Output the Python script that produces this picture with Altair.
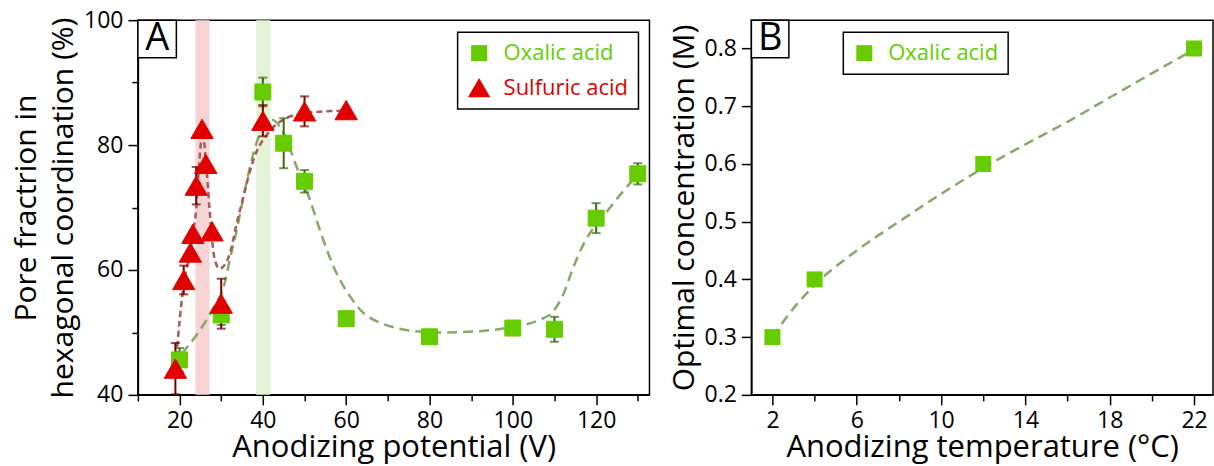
import altair as alt
import pandas as pd

FONT = "Open Sans"
GREEN = "#66cc00"
RED = "#e00000"
GREEN_DARK = "#3a6b0a"
RED_DARK = "#780000"
GREEN_LINE = "#87a86b"
RED_LINE = "#a55c5c"
BAND_RED = "#f8d4d4"
BAND_GREEN = "#e4f2d6"

# ---------------- Panel A data ----------------
ox_v = [20, 30, 40, 45, 50, 60, 80, 100, 110, 120, 130]
ox_p = [45.6, 52.8, 88.5, 80.3, 74.2, 52.2, 49.3, 50.7, 50.5, 68.3, 75.4]
ox_err = [1.9, 1.6, 2.3, 4.0, 1.8, 0, 0, 0, 2.0, 2.4, 1.7]

su_v = [19, 21, 22.6, 23.2, 24, 25.4, 26.3, 27.8, 30, 40, 50, 60]
su_p = [44.2, 58.4, 62.8, 65.8, 73.5, 82.6, 77.0, 66.2, 54.6, 83.9, 85.4, 85.6]
su_err = [4.1, 2.3, 0, 0, 3.0, 0, 0, 0, 4.0, 2.5, 2.4, 0]

ox_curve_v = [20.5, 24, 28, 30.8, 32, 33.6, 35.2, 36.8, 38.4, 40.4, 42.4, 44, 45.6, 48,
              51.2, 54.4, 57.6, 60.8, 64, 68, 72.8, 78.4, 84, 92, 100, 106.4, 109.6,
              112, 114.4, 116.8, 119.2, 122.4, 125.6, 130]
ox_curve_p = [46.6, 49.5, 53.8, 57.8, 61.5, 66.0, 71.2, 76.2, 80.2, 83.2, 84.0, 83.0, 81.0, 76.7,
              71.4, 65.0, 59.6, 55.9, 53.2, 51.6, 50.6, 50.1, 50.0, 50.2, 50.9, 52.0, 53.3,
              55.9, 60.2, 63.9, 66.6, 69.2, 71.9, 75.3]

su_curve_v = [19, 21.2, 22.4, 23.2, 24, 24.4, 24.8, 25.2, 25.6, 26.4, 27.2, 27.8, 28.4, 29.6,
              31.2, 32.4, 33.6, 35.2, 36.8, 38.4, 40.8, 42.4, 45.6, 49.6, 52.8, 60]
su_curve_p = [44.5, 58.6, 62.3, 66.0, 69.8, 74.0, 77.8, 80.7, 81.5, 76.7, 69.8, 65.0, 61.8, 60.2,
              61.2, 63.4, 67.1, 71.4, 75.6, 78.8, 81.5, 82.8, 84.3, 85.1, 85.3, 85.5]

band_lo = [23.8, 38.4]
band_hi = [27.2, 41.8]
band_col = [BAND_RED, BAND_GREEN]

series_names = ["Oxalic acid", "Sulfuric acid"]

# ---------------- Panel B data ----------------
temp_c = [2, 4, 12, 22]
conc_m = [0.3, 0.4, 0.6, 0.8]
curve_t = [2, 3, 4, 6, 8, 10, 12, 14, 16, 18, 20, 22]
curve_c = [0.300, 0.350, 0.390, 0.450, 0.500, 0.548, 0.593, 0.634, 0.673, 0.715, 0.757, 0.798]

# ---------------- tables ----------------
pts = pd.DataFrame({
    "v": ox_v + su_v,
    "p": ox_p + su_p,
    "series": [series_names[0]] * len(ox_v) + [series_names[1]] * len(su_v),
})

def err_table(v, p, e):
    rows = [(a, b - c, b + c) for a, b, c in zip(v, p, e) if c > 0]
    return pd.DataFrame(rows, columns=["v", "p", "p2"])

ox_err_df = err_table(ox_v, ox_p, ox_err)
su_err_df = err_table(su_v, su_p, su_err)

def caps(df):
    return pd.DataFrame({"v": list(df["v"]) * 2, "p": list(df["p"]) + list(df["p2"])})

ox_curve = pd.DataFrame({"v": ox_curve_v, "p": ox_curve_p})
su_curve = pd.DataFrame({"v": su_curve_v, "p": su_curve_p})
bands = pd.DataFrame({"v": band_lo, "v2": band_hi, "c": band_col})

b_pts = pd.DataFrame({"t": temp_c, "c": conc_m, "series": ["Oxalic acid"] * len(temp_c)})
b_curve = pd.DataFrame({"t": curve_t, "c": curve_c})

one = pd.DataFrame({"k": [0]})

# ---------------- Panel A ----------------
WA, HA = 512, 375
scA_x = alt.Scale(domain=[10, 132.8], nice=False, zero=False)
scA_y = alt.Scale(domain=[40, 100], nice=False, zero=False)

axA_x = alt.Axis(
    values=list(range(10, 131, 10)),
    labelExpr="datum.value % 20 === 0 ? datum.label : ''",
    tickSize={"condition": {"test": "datum.value % 20 === 0", "value": 10}, "value": 6},
    labelFlush=False, labelOverlap=False, labelPadding=5, titlePadding=0,
)
axA_y = alt.Axis(
    values=list(range(40, 101, 10)),
    labelExpr="datum.value % 20 === 0 ? datum.label : ''",
    tickSize={"condition": {"test": "datum.value % 20 === 0", "value": 10}, "value": 6},
    labelFlush=False, labelOverlap=False, labelPadding=5, titlePadding=5,
    titleLineHeight=37,
)
TITLE_AX = "Anodizing potential (V)"
TITLE_AY = ["Pore fractrion in", "hexagonal coordination (%)"]

def XA(f="v"):
    return alt.X(f"{f}:Q", scale=scA_x, axis=axA_x, title=TITLE_AX)

def YA(f="p"):
    return alt.Y(f"{f}:Q", scale=scA_y, axis=axA_y, title=TITLE_AY)

band_layer = alt.Chart(bands).mark_rect(opacity=1).encode(
    x=XA(), x2="v2:Q", color=alt.Color("c:N", scale=None)
)

ox_line = alt.Chart(ox_curve).mark_line(
    color=GREEN_LINE, strokeWidth=2.5, strokeDash=[10, 6], interpolate="monotone"
).encode(x=XA(), y=YA())

su_line = alt.Chart(su_curve).mark_line(
    color=RED_LINE, strokeWidth=2.5, strokeDash=[6, 4], interpolate="monotone"
).encode(x=XA(), y=YA())

def err_layers(df, col):
    rule = alt.Chart(df).mark_rule(color=col, strokeWidth=2).encode(
        x=XA(), y=YA(), y2="p2:Q"
    )
    tick = alt.Chart(caps(df)).mark_tick(
        color=col, thickness=2, size=9, orient="horizontal"
    ).encode(x=XA(), y=YA())
    return [rule, tick]

point_layer = alt.Chart(pts).mark_point(filled=True, opacity=1, strokeWidth=1,
                                        strokeJoin="round").encode(
    x=XA(), y=YA(),
    color=alt.Color("series:N", scale=alt.Scale(domain=series_names, range=[GREEN, RED]),
                    legend=alt.Legend(
                        title=None, orient="none", legendX=320, legendY=12,
                        labelColor=alt.ExprRef(
                            "datum.value === 'Oxalic acid' ? '%s' : '%s'" % (GREEN, RED)),
                        labelFontSize=22, labelFont=FONT, padding=10, rowPadding=12,
                        labelOffset=13, strokeColor="black", fillColor="white",
                        symbolStrokeWidth=0,
                    )),
    shape=alt.Shape("series:N", scale=alt.Scale(domain=series_names,
                                                range=["square", "triangle-up"])),
    size=alt.Size("series:N", scale=alt.Scale(domain=series_names, range=[256, 500])),
    stroke=alt.Stroke("series:N", scale=alt.Scale(domain=series_names, range=[GREEN, RED]),
                      legend=None),
)

boxA = alt.Chart(one).mark_rect(fill="white", stroke="black", strokeWidth=1.5).encode(
    x=alt.value(0), x2=alt.value(38.5), y=alt.value(0), y2=alt.value(37.5)
)
letterA = alt.Chart(one).mark_text(text="A", fontSize=38, font=FONT, color="black",
                                   align="center", baseline="middle").encode(
    x=alt.value(19.5), y=alt.value(19)
)

panelA = alt.layer(
    band_layer, ox_line, su_line,
    *err_layers(ox_err_df, GREEN_DARK),
    *err_layers(su_err_df, RED_DARK),
    point_layer, boxA, letterA,
).properties(width=WA, height=HA)

# ---------------- Panel B ----------------
WB, HB = 462, 375
scB_x = alt.Scale(domain=[1, 22.9], nice=False, zero=False)
scB_y = alt.Scale(domain=[0.2, 0.849], nice=False, zero=False)
axB_x = alt.Axis(
    values=list(range(2, 23, 2)),
    labelExpr="(datum.value - 2) % 4 === 0 ? datum.label : ''",
    tickSize={"condition": {"test": "(datum.value - 2) % 4 === 0", "value": 10}, "value": 6},
    labelFlush=False, labelOverlap=False, labelPadding=5, titlePadding=0,
)
axB_y = alt.Axis(
    values=[0.2, 0.3, 0.4, 0.5, 0.6, 0.7, 0.8], format=".1f", tickSize=10,
    labelFlush=False, labelOverlap=False, labelPadding=5, titlePadding=5,
)
TITLE_BX = "Anodizing temperature (°C)"
TITLE_BY = "Optimal concentration (M)"

def XB():
    return alt.X("t:Q", scale=scB_x, axis=axB_x, title=TITLE_BX)

def YB():
    return alt.Y("c:Q", scale=scB_y, axis=axB_y, title=TITLE_BY)

b_line = alt.Chart(b_curve).mark_line(
    color=GREEN_LINE, strokeWidth=2.5, strokeDash=[10, 6], interpolate="monotone"
).encode(x=XB(), y=YB())

b_point = alt.Chart(b_pts).mark_square(size=256, opacity=1, filled=True).encode(
    x=XB(), y=YB(),
    color=alt.Color("series:N", scale=alt.Scale(domain=["Oxalic acid"], range=[GREEN]),
                    legend=alt.Legend(
                        title=None, orient="none", legendX=92, legendY=12,
                        labelColor=GREEN, labelFontSize=22, labelFont=FONT,
                        padding=10, labelOffset=13, symbolSize=256,
                        strokeColor="black", fillColor="white", symbolStrokeWidth=0,
                    )),
)

boxB = alt.Chart(one).mark_rect(fill="white", stroke="black", strokeWidth=1.5).encode(
    x=alt.value(0), x2=alt.value(37.5), y=alt.value(0), y2=alt.value(37.5)
)
letterB = alt.Chart(one).mark_text(text="B", fontSize=38, font=FONT, color="black",
                                   align="center", baseline="middle").encode(
    x=alt.value(19), y=alt.value(19)
)

panelB = alt.layer(b_line, b_point, boxB, letterB).properties(width=WB, height=HB)

chart = alt.HConcatChart(
    hconcat=[panelA, panelB], spacing=102, bounds="flush",
).resolve_scale(
    color="independent", shape="independent", size="independent", stroke="independent"
).resolve_legend(
    color="independent", shape="independent", size="independent"
).properties(
    padding={"left": 10, "top": 8, "right": 0, "bottom": 6},
    background="white",
).configure_view(
    stroke="black", strokeWidth=1.5
).configure_axis(
    grid=False, domainColor="black", domainWidth=1.5, tickColor="black", tickWidth=1.5,
    labelFont=FONT, labelFontSize=23, labelColor="black",
    titleFont=FONT, titleFontSize=31, titleColor="black", titleFontWeight="normal",
).configure_axisY(
    titleFontSize=30
).configure_legend(
    strokeWidth=1.5
)

chart.save("out.html", embed_options={"renderer": "svg", "actions": False})
